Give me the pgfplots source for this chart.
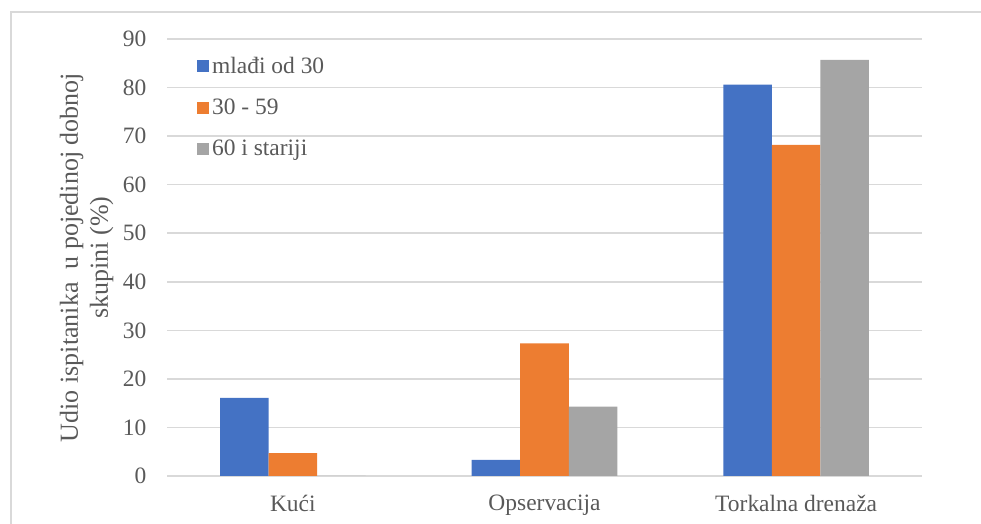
\documentclass[border=0pt]{standalone}
\usepackage{fontspec}
\setmainfont{Liberation Serif}
\usepackage{pgfplots}
\pgfplotsset{compat=1.18}
\definecolor{cblue}{HTML}{4472C4}
\definecolor{corange}{HTML}{ED7D31}
\definecolor{cgray}{HTML}{A5A5A5}
\definecolor{cgrid}{HTML}{D9D9D9}
\definecolor{ctext}{HTML}{595959}
\newcommand{\chartfont}{\fontsize{17.6}{21}\selectfont}
\newcommand{\labelfont}{\fontsize{19.5}{22.5}\selectfont}
\begin{document}
\begin{tikzpicture}
\useasboundingbox (0pt,0pt) rectangle (735.75pt,393pt);
\draw[cgrid,line width=1.2pt] (8.25pt,0pt) -- (8.25pt,384pt) -- (735.75pt,384pt);
\begin{axis}[
  at={(125.25pt,36pt)}, anchor=south west,
  scale only axis, width=566.25pt, height=327.75pt,
  xmin=-0.5, xmax=2.5, ymin=0, ymax=90,
  ybar=0pt, bar width=36.4pt,
  axis line style={draw=none},
  xtick={0,1,2}, xticklabels={Kući,Opservacija,Torkalna drenaža},
  ytick={0,10,...,90},
  major tick length=0pt,
  ymajorgrids, grid style={cgrid,line width=1.2pt},
  xtick style={draw=none}, ytick style={draw=none},
  tick label style={font=\chartfont,text=ctext},
  /pgf/number format/assume math mode=true,
  yticklabel style={xshift=-12pt},
  xticklabel style={yshift=-11pt},
  ylabel={Udio ispitanika\ \ u pojedinoj dobnoj\\skupini (\%)},
  ylabel style={font=\labelfont,text=ctext,align=center,at={(axis description cs:-0.1066,0.5)},anchor=center},
  legend cell align=left,
  legend style={at={(rel axis cs:0.04,0.965)},anchor=north west,draw=none,fill=none,
    font=\chartfont,text=ctext,row sep=13.5pt,inner sep=0pt,
    nodes={inner sep=2pt}},
  legend image code/.code={\fill[#1] (0pt,-4.5pt) rectangle (9pt,4.5pt);},
]
\addplot[fill=cblue,draw=none] coordinates {(0,16.1) (1,3.3) (2,80.6)};
\addplot[fill=corange,draw=none] coordinates {(0,4.7) (1,27.3) (2,68.2)};
\addplot[fill=cgray,draw=none] coordinates {(0,0) (1,14.3) (2,85.7)};
\legend{mlađi od 30,30 - 59,60 i stariji}
\end{axis}
\end{tikzpicture}
\end{document}
